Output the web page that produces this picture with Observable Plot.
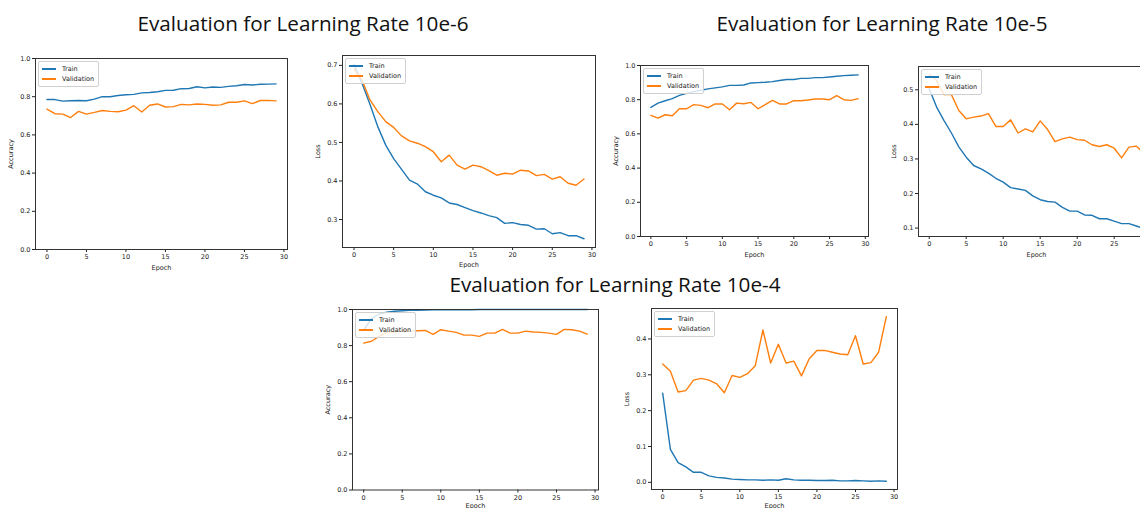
<!DOCTYPE html>
<html><head><meta charset="utf-8">
<script src="https://cdn.jsdelivr.net/npm/d3@7"></script>
<script src="https://cdn.jsdelivr.net/npm/@observablehq/plot@0.6"></script>
<style>
html,body{margin:0;padding:0;background:#fff;overflow:hidden;}
#root{position:relative;width:1140px;height:508px;overflow:hidden;background:#fff;}
.title{position:absolute;font-family:"Open Sans",sans-serif;font-size:20.7px;line-height:20px;color:#111;white-space:nowrap;transform:translateX(-50%);}
.panel{position:absolute;}
.panel svg{max-width:none !important;}
.legend{position:absolute;border:1px solid #d0d0d0;border-radius:2px;background:rgba(255,255,255,0.8);font-family:"DejaVu Sans",sans-serif;font-size:6.5px;color:#222;padding:2px 4px 2px 3px;line-height:10px;}
.legend .sw{display:inline-block;width:14px;height:1.6px;vertical-align:middle;margin-right:6px;}
</style>
</head><body><div id="root"></div>
<script>
// ---- data ----
const epochs = [0,1,2,3,4,5,6,7,8,9,10,11,12,13,14,15,16,17,18,19,20,21,22,23,24,25,26,27,28,29];
const epochTicks = [0,5,10,15,20,25,30];
const accTicks = [0,0.2,0.4,0.6,0.8,1.0];
const loss6Ticks = [0.3,0.4,0.5,0.6,0.7];
const loss5Ticks = [0.1,0.2,0.3,0.4,0.5];
const loss4Ticks = [0.0,0.1,0.2,0.3,0.4];
const titles = ["Evaluation for Learning Rate 10e-6","Evaluation for Learning Rate 10e-5","Evaluation for Learning Rate 10e-4"];
const seriesNames = ["Train","Validation"];

const acc6Train = [0.785,0.785,0.777,0.779,0.780,0.779,0.787,0.800,0.800,0.806,0.810,0.812,0.820,0.822,0.826,0.833,0.834,0.842,0.843,0.852,0.846,0.851,0.849,0.854,0.857,0.864,0.861,0.865,0.866,0.867];
const acc6Val   = [0.735,0.711,0.709,0.691,0.723,0.709,0.718,0.728,0.723,0.721,0.730,0.753,0.720,0.755,0.762,0.746,0.748,0.760,0.757,0.762,0.760,0.755,0.757,0.771,0.771,0.778,0.764,0.780,0.781,0.778];
const loss6Train = [0.703,0.654,0.600,0.541,0.493,0.458,0.430,0.402,0.392,0.372,0.363,0.356,0.343,0.339,0.331,0.323,0.317,0.310,0.305,0.290,0.292,0.287,0.285,0.275,0.276,0.263,0.266,0.258,0.258,0.250];
const loss6Val   = [0.690,0.663,0.611,0.580,0.554,0.539,0.517,0.504,0.498,0.489,0.476,0.450,0.467,0.441,0.431,0.441,0.437,0.427,0.415,0.420,0.418,0.428,0.426,0.414,0.417,0.405,0.411,0.394,0.389,0.405];
const acc5Train = [0.755,0.780,0.794,0.806,0.825,0.837,0.847,0.855,0.863,0.869,0.875,0.884,0.884,0.886,0.898,0.900,0.902,0.906,0.912,0.918,0.918,0.925,0.925,0.929,0.929,0.933,0.937,0.941,0.943,0.945];
const acc5Val   = [0.708,0.692,0.712,0.706,0.747,0.747,0.771,0.767,0.753,0.775,0.775,0.741,0.780,0.776,0.784,0.747,0.771,0.796,0.775,0.775,0.794,0.794,0.798,0.804,0.804,0.800,0.824,0.800,0.796,0.806];
const loss5Train = [0.503,0.450,0.411,0.375,0.335,0.305,0.281,0.271,0.259,0.244,0.233,0.217,0.213,0.209,0.193,0.182,0.177,0.175,0.160,0.149,0.149,0.138,0.137,0.127,0.127,0.120,0.113,0.113,0.106,0.098];
const loss5Val   = [0.545,0.527,0.486,0.486,0.440,0.416,0.421,0.424,0.431,0.394,0.394,0.413,0.375,0.387,0.378,0.410,0.385,0.350,0.358,0.363,0.356,0.354,0.341,0.336,0.341,0.331,0.303,0.334,0.337,0.317];
const acc4Train = [0.885,0.950,0.975,0.985,0.990,0.993,0.995,0.996,0.997,0.998,0.998,0.999,0.999,0.999,0.999,1.000,1.000,1.000,1.000,1.000,1.000,1.000,1.000,1.000,1.000,1.000,1.000,1.000,1.000,1.000];
const acc4Val   = [0.814,0.824,0.851,0.873,0.877,0.880,0.880,0.882,0.884,0.862,0.888,0.880,0.873,0.858,0.858,0.851,0.869,0.869,0.890,0.869,0.869,0.880,0.875,0.873,0.869,0.862,0.890,0.888,0.880,0.864];
const loss4Train = [0.249,0.092,0.055,0.043,0.028,0.028,0.018,0.014,0.012,0.009,0.008,0.007,0.007,0.006,0.007,0.006,0.010,0.007,0.006,0.006,0.005,0.005,0.006,0.004,0.004,0.005,0.004,0.003,0.004,0.003];
const loss4Val   = [0.330,0.310,0.252,0.256,0.285,0.290,0.285,0.275,0.250,0.298,0.293,0.303,0.325,0.425,0.333,0.385,0.333,0.338,0.297,0.345,0.368,0.368,0.363,0.358,0.356,0.409,0.330,0.334,0.363,0.462];

// ---- layout (page-pixel frames of each small matplotlib panel) ----
const panels = [
  {train:acc6Train, val:acc6Val, label:"Accuracy", ticks:accTicks, fixed:[0,1], fx:35, fy:58, fw:252, fh:191, lo:20},
  {train:loss6Train, val:loss6Val, label:"Loss", ticks:loss6Ticks, fx:342, fy:55, fw:253, fh:192, lo:19},
  {train:acc5Train, val:acc5Val, label:"Accuracy", ticks:accTicks, fixed:[0,1], fx:640, fy:65, fw:228, fh:171, lo:20},
  {train:loss5Train, val:loss5Val, label:"Loss", ticks:loss5Ticks, fx:918, fy:66, fw:236, fh:170, lo:20},
  {train:acc4Train, val:acc4Val, label:"Accuracy", ticks:accTicks, fixed:[0,1], fx:352, fy:308.5, fw:246, fh:180.5, lo:18},
  {train:loss4Train, val:loss4Val, label:"Loss", ticks:loss4Ticks, fx:651, fy:308, fw:246, fh:181, lo:18}
];
const titlePos = [{x:303,y:13},{x:882,y:13},{x:615,y:274}];

const root = document.getElementById("root");
titles.forEach((t,i)=>{
  const d = document.createElement("div");
  d.className="title"; d.textContent=t;
  d.style.left=titlePos[i].x+"px"; d.style.top=titlePos[i].y+"px";
  root.appendChild(d);
});

const colors = ["#1f77b4","#ff7f0e"];
const ml=34, mr=6, mt=6, mb=30;

panels.forEach(p=>{
  const rows = [];
  epochs.forEach((e,i)=>{
    rows.push({epoch:e, value:p.train[i], series:seriesNames[0]});
    rows.push({epoch:e, value:p.val[i], series:seriesNames[1]});
  });
  let yDomain;
  if (p.fixed) yDomain = p.fixed;
  else {
    const ext = d3.extent(rows, d=>d.value);
    const pad = (ext[1]-ext[0])*0.05;
    yDomain = [ext[0]-pad, ext[1]+pad];
  }
  const W = p.fw+ml+mr, H = p.fh+mt+mb;
  const chart = Plot.plot({
    width: W, height: H,
    marginLeft: ml, marginRight: mr, marginTop: mt, marginBottom: mb,
    style: {fontFamily:"DejaVu Sans", fontSize:"6.5px", color:"#222", background:"transparent", overflow:"visible", maxWidth:"none"},
    x: {domain:[-1.45,30.45], ticks:epochTicks, tickSize:3, tickPadding:2, label:"Epoch", labelAnchor:"center", labelArrow:"none", labelOffset:p.lo},
    y: {domain:yDomain, ticks:p.ticks, tickFormat:d3.format(".1f"), tickSize:3, tickPadding:2, label:p.label, labelAnchor:"center", labelArrow:"none", labelOffset:27},
    color: {domain:seriesNames, range:colors},
    marks: [
      Plot.line(rows, {x:"epoch", y:"value", z:"series", stroke:"series", strokeWidth:1.4}),
      Plot.frame({stroke:"#333", strokeWidth:1})
    ]
  });
  chart.style.maxWidth = "none";
  chart.style.width = W+"px";
  chart.style.height = H+"px";
  const wrap = document.createElement("div");
  wrap.className="panel";
  wrap.style.left=(p.fx-ml)+"px"; wrap.style.top=(p.fy-mt)+"px";
  wrap.style.width=W+"px"; wrap.style.height=H+"px";
  wrap.appendChild(chart);
  root.appendChild(wrap);

  const lg = document.createElement("div");
  lg.className="legend";
  lg.style.left=(p.fx+3)+"px"; lg.style.top=(p.fy+3)+"px";
  seriesNames.forEach((s,i)=>{
    const r=document.createElement("div");
    const sw=document.createElement("span"); sw.className="sw"; sw.style.background=colors[i];
    r.appendChild(sw); r.appendChild(document.createTextNode(s));
    lg.appendChild(r);
  });
  root.appendChild(lg);
});
</script>
</body></html>
